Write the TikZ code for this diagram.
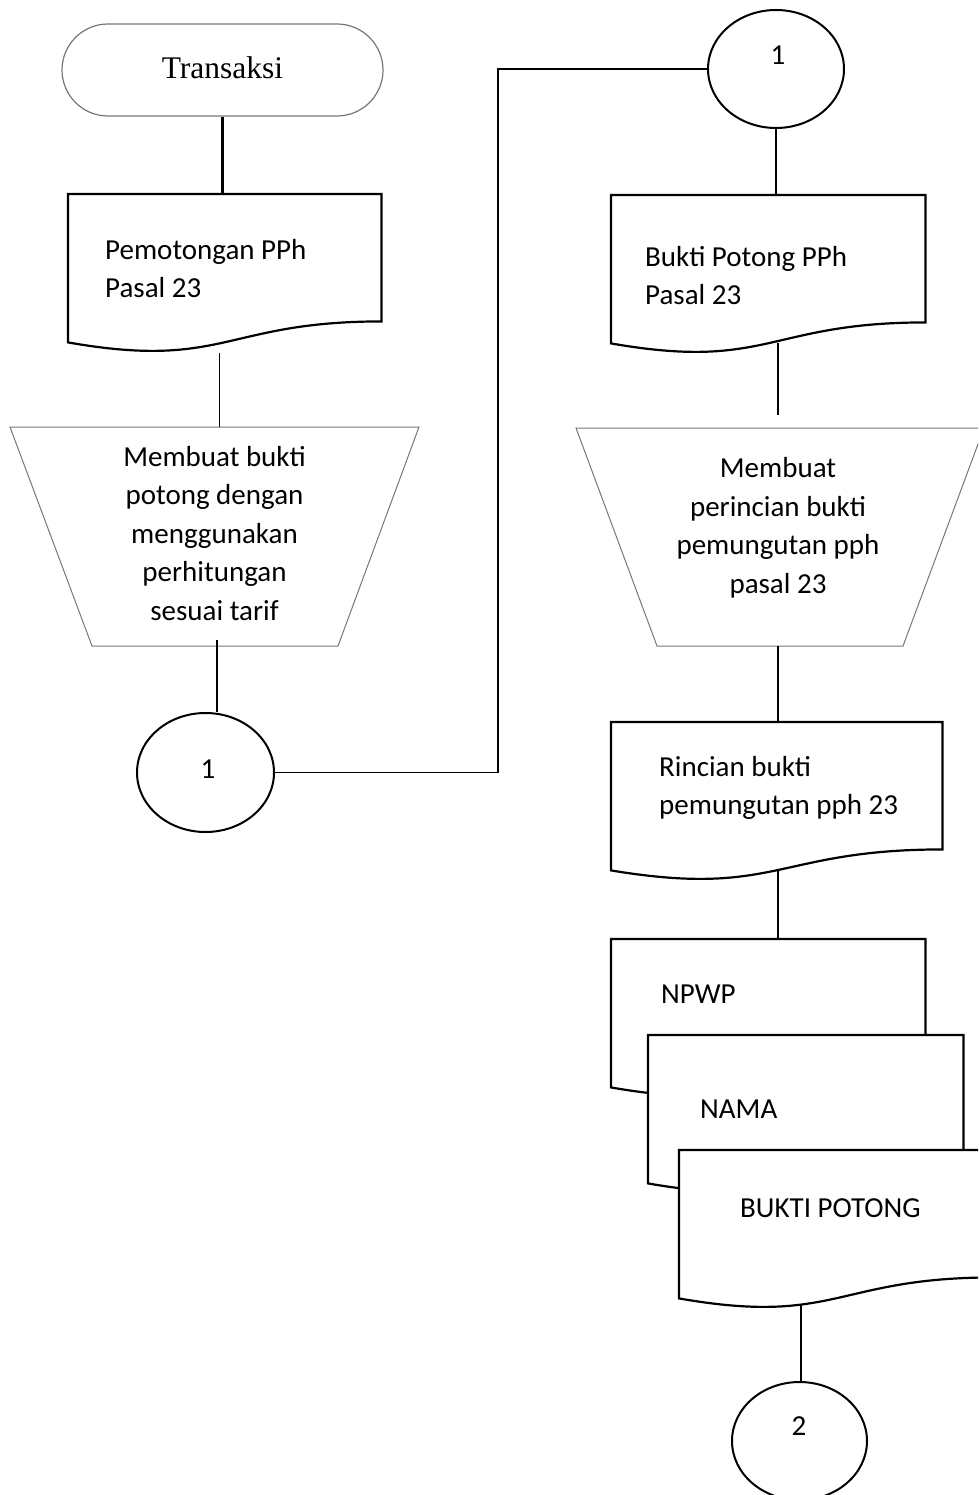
\documentclass[tikz,border=0pt]{standalone}
\usepackage{fontspec}
\setmainfont{Carlito}
\newfontfamily\serifface{Liberation Serif}
\usetikzlibrary{shapes.geometric,calc}

\definecolor{outlinegray}{RGB}{118,118,118}

\tikzset{
  textbody/.style={inner sep=0pt, font=\fontsize{29}{38}\selectfont},
  widetext/.style={inner sep=0pt, font=\fontsize{29}{38.5}\selectfont},
  terminal/.style={rectangle, rounded corners=46pt, draw=outlinegray, line width=1.2pt,
    minimum width=321pt, minimum height=92pt, inner sep=0pt,
    text height=20pt, text depth=2pt, font=\serifface\fontsize{31.5}{36}\selectfont},
  docnode/.style={rectangle, draw=none, inner sep=0pt, minimum height=158.5pt, anchor=north west},
  docline/.style={draw=black, line width=2.2pt, fill=white, line join=miter},
  manualop/.style={draw=outlinegray, line width=1pt, line join=miter},
  connector/.style={ellipse, draw=black, line width=2pt, inner sep=0pt, fill=white},
  linkline/.style={draw=black, line width=1.3pt},
  heavylink/.style={draw=black, line width=2.2pt},
}

% outline of a flowchart "document" symbol fitted to a node's box
\newcommand\docoutline[1]{%
  \path[docline] let \p1=(#1.north west), \p2=(#1.south east) in
    (\p1) -- (\x2,\y1) -- (\x2,{\y1+0.802*(\y2-\y1)})
    .. controls ({0.5*(\x1+\x2)},{\y1+0.802*(\y2-\y1)}) and ({0.5*(\x1+\x2)},{\y1+1.1075*(\y2-\y1)})
    .. (\x1,{\y1+0.934*(\y2-\y1)}) -- cycle;}

\begin{document}
\begin{tikzpicture}[x=1pt,y=-1pt]
\useasboundingbox (0,0) rectangle (978,1495);
\clip (0,0) rectangle (978,1495);

% ---------------- left column ----------------
\node[terminal] (term) at (222.5,70) {Transaksi};

\node[docnode, minimum width=313pt] (doc1) at (68,194) {};
\docoutline{doc1}
\node[textbody, anchor=west, align=left] (doc1txt) at (105,270.5)
  {\strut Pemotongan PPh\\\strut Pasal 23};

\draw[manualop] (10,427) -- (419,427) -- (338,646) -- (92,646) -- cycle;
\node[widetext, align=center] (trap1) at (214.5,535.5)
  {\strut Membuat bukti\\\strut potong dengan\\\strut menggunakan\\\strut perhitungan\\\strut sesuai tarif};
\coordinate (t1in) at (219.5,427);
\coordinate (t1out) at (217,640);

\node[connector, minimum width=137pt, minimum height=119pt] (circ1) at (205.5,772.5) {};
\node[textbody, anchor=base] (circ1lbl) at (208,778) {1};

% ---------------- right column ----------------
\node[connector, minimum width=136pt, minimum height=118pt] (circ1r) at (776,69) {};
\node[textbody, anchor=base] (circ1rlbl) at (778,65) {1};

\node[docnode, minimum width=314pt] (doc2) at (611,195) {};
\docoutline{doc2}
\node[textbody, anchor=west, align=left] (doc2txt) at (645,278)
  {\strut Bukti Potong PPh\\\strut Pasal 23};
\coordinate (d2out) at (778,343);
\coordinate (t2in) at (778,415);

\draw[manualop] (576,428) -- (984,428) -- (903,646) -- (657,646) -- cycle;
\node[widetext, align=center] (trap2) at (778,528)
  {\strut Membuat\\\strut perincian bukti\\\strut pemungutan pph\\\strut pasal 23};
\coordinate (t2out) at (778,646);

\node[docnode, minimum width=331pt] (doc3) at (611,722) {};
\docoutline{doc3}
\node[textbody, anchor=west, align=left] (doc3txt) at (659,788)
  {\strut Rincian bukti\\\strut pemungutan pph 23};
\coordinate (d3out) at (778,870);

% stacked documents
\node[docnode, minimum width=314pt] (npwp) at (611,939) {};
\docoutline{npwp}
\node[textbody, anchor=base west] (npwptxt) at (661,1003) {NPWP};

\node[docnode, minimum width=315pt] (nama) at (648,1035) {};
\docoutline{nama}
\node[textbody, anchor=base west] (namatxt) at (700,1118) {NAMA};

\node[docnode, minimum width=314pt] (bukti) at (679,1150) {};
\docoutline{bukti}
\node[textbody, anchor=base west] (buktitxt) at (740,1217) {BUKTI POTONG};
\coordinate (bout) at (801,1305);

\node[connector, minimum width=135pt, minimum height=118pt] (circ2) at (799.5,1441) {};
\node[textbody, anchor=base] (circ2lbl) at (799,1435) {2};

% ---------------- connectors ----------------
\coordinate (bend) at (498,0);
\draw[heavylink] (term.south) -- (term.south |- doc1.north);
\draw[linkline] (doc1.south -| t1in) -- (t1in);
\draw[linkline] (t1out) -- (t1out |- circ1.north);
\draw[linkline] (circ1.east) -| (bend |- circ1r.west) -- (circ1r.west);
\draw[linkline] (circ1r.south) -- (circ1r.south |- doc2.north);
\draw[linkline] (d2out) -- (t2in);
\draw[heavylink] (t2out) -- (t2out |- doc3.north);
\draw[heavylink] (d3out) -- (d3out |- npwp.north);
\draw[linkline] (bout) -- (bout |- circ2.north);
\end{tikzpicture}
\end{document}
